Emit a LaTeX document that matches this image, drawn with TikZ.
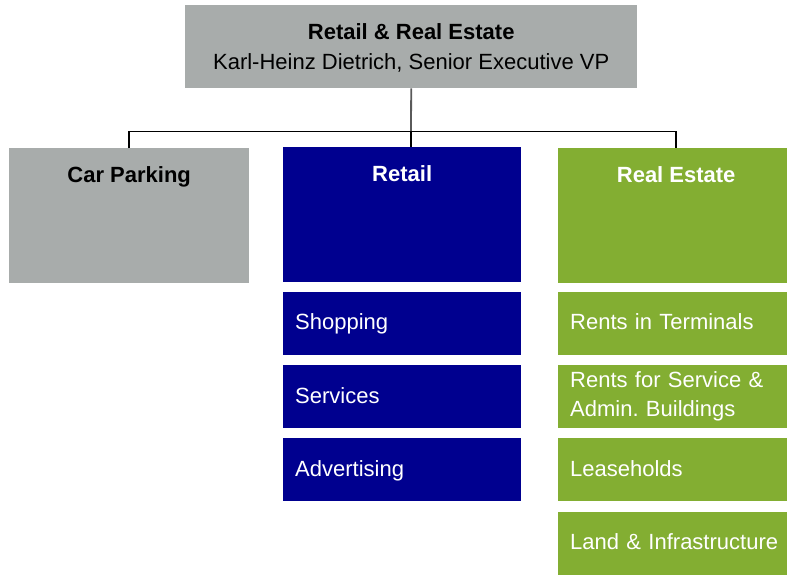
\documentclass[tikz,border=0pt]{standalone}
\usepackage{fontspec}
\setmainfont{Liberation Sans}
\usepackage{xcolor}
\usetikzlibrary{positioning}
\definecolor{boxgray}{HTML}{A8ACAB}
\definecolor{boxblue}{HTML}{00008F}
\definecolor{boxgreen}{HTML}{83AE32}
\definecolor{stemgray}{HTML}{5A5A5A}

\begin{document}
\begin{tikzpicture}[
  x=1pt, y=-1pt,
  every node/.style={font=\fontsize{22}{28.4}\selectfont\frenchspacing, inner sep=0pt},
  topbox/.style={rectangle, fill=boxgray, minimum width=452pt, minimum height=83pt,
                 align=center, anchor=north west, text depth=0pt},
  unit/.style={rectangle, minimum height=135pt, anchor=north west,
               font=\fontsize{22}{28.4}\selectfont\bfseries,
               text height=34.5pt, text depth=100.5pt},
  subunit/.style={rectangle, minimum height=63pt, inner xsep=12pt, align=left,
                  text height=20pt, text depth=7pt, text=white},
  link/.style={line width=1.8pt}
]
\useasboundingbox (0,0) rectangle (787,574);

% Head
\node[topbox] (head) at (185,5)
      {\textbf{Retail \& Real Estate}\\[1.6pt]Karl-Heinz Dietrich, Senior Executive VP};

% Units
\node[unit, fill=boxgray, minimum width=240pt] (carpark) at (9,148) {Car Parking};
\node[unit, fill=boxblue, text=white, minimum width=238pt] (retail) at (283,147) {Retail};
\node[unit, fill=boxgreen, text=white, minimum width=236pt] (realest) at (558,148) {Real Estate};

% Retail
\node[subunit, fill=boxblue, text width=214pt, below=9pt of retail] (shop) {Shopping};
\node[subunit, fill=boxblue, text width=214pt, below=10pt of shop] (serv) {Services};
\node[subunit, fill=boxblue, text width=214pt, below=10pt of serv] (adv) {Advertising};

% Real estate
\node[subunit, fill=boxgreen, text width=212pt, below=8pt of realest] (rterm) {Rents in Terminals};
\node[subunit, fill=boxgreen, text width=212pt, text depth=37.4pt, below=10pt of rterm] (radmin)
      {Rents for Service \&\\Admin. Buildings};
\node[subunit, fill=boxgreen, text width=212pt, below=10pt of radmin] (lease) {Leaseholds};
\node[subunit, fill=boxgreen, text width=212pt, below=10pt of lease] (land) {Land~\&~Infrastructure};

% Lines
\coordinate (bar) at (411,131.5);
\draw[link, draw=stemgray] (head.south) -- (bar);
\draw[link] (carpark.north) |- (bar) -| (realest.north);
\draw[link] (bar) -- (bar |- retail.north);
\end{tikzpicture}
\end{document}
